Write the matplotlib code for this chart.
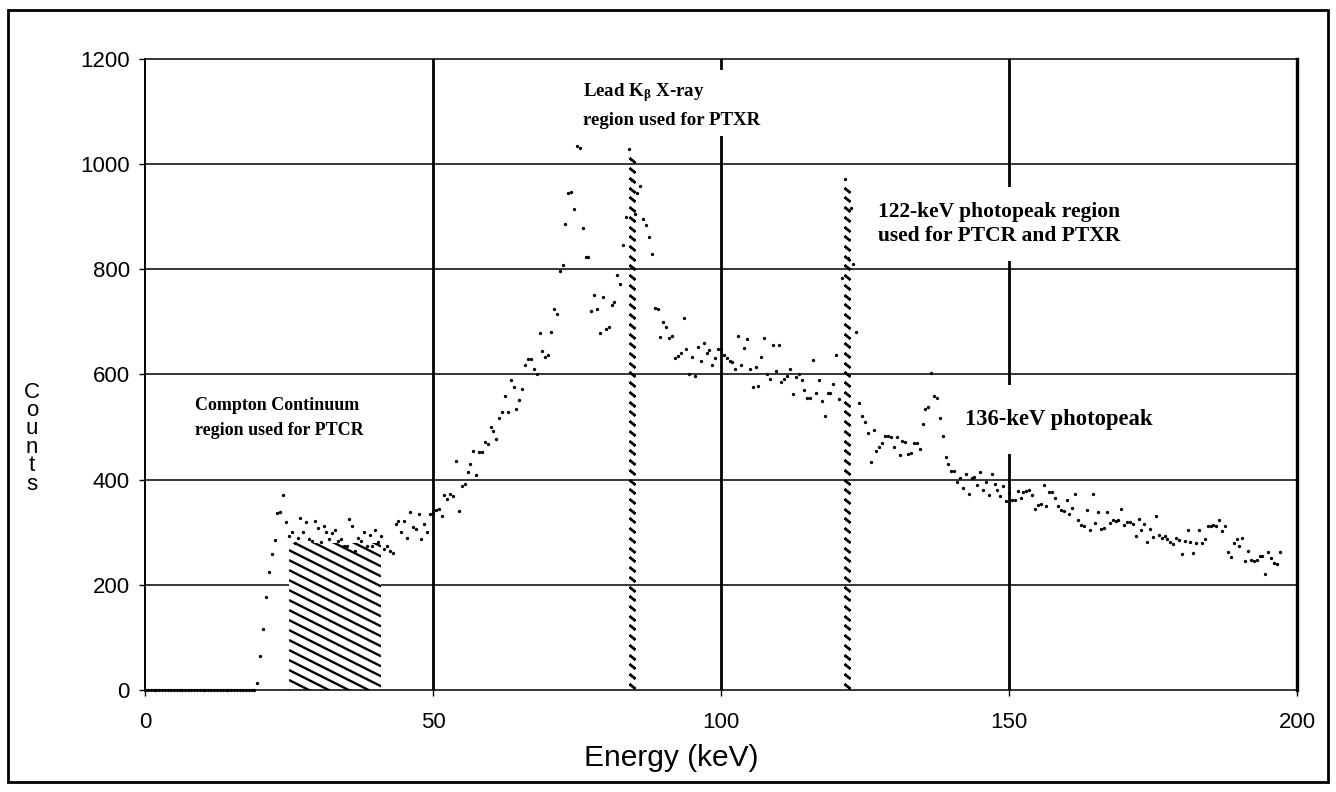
import numpy as np
import matplotlib
matplotlib.use('Agg')
import matplotlib.pyplot as plt
from matplotlib.patches import Rectangle

# spectrum counts, one value per 0.5 keV channel starting at 0 keV
counts_low = [0, 0, 0, 0, 0, 0, 0, 0, 0, 0,
              0, 0, 0, 0, 0, 0, 0, 0, 0, 0,
              0, 0, 0, 0, 0, 0, 0, 0, 0, 0,
              0, 0, 0, 0, 0, 0, 0, 0, 0, 13]
counts_compton = [65, 116, 176, 225, 258, 285, 336, 338, 371, 319,
                  293, 300, 280, 290, 328, 300, 319, 287, 284, 322,
                  309, 281, 311, 300, 287, 298, 305, 284, 287, 274,
                  274, 325, 312, 265, 290, 284, 300, 274, 295, 274,
                  305, 281, 293, 268, 274, 265, 260, 316, 322, 300]
counts_kx = [322, 290, 338, 310, 306, 334, 287, 316, 300, 334,
             336, 343, 344, 331, 371, 363, 373, 369, 435, 340,
             387, 392, 415, 430, 454, 408, 453, 453, 471, 468,
             500, 492, 478, 517, 529, 560, 528, 589, 577, 535,
             551, 572, 618, 629, 629, 610, 600, 678, 644, 634,
             638, 681, 724, 716, 797, 808, 886, 945, 948, 914,
             1035, 1030, 879, 824, 824, 720, 751, 724, 679, 748,
             687, 690, 732, 737, 789, 773, 846, 900, 1029, 970,
             905, 946, 959, 895, 884, 862, 830, 727, 725, 672]
counts_mid = [700, 691, 670, 674, 631, 635, 641, 707, 649, 601,
              634, 597, 652, 625, 660, 641, 646, 618, 632, 648,
              649, 638, 631, 625, 624, 611, 673, 618, 651, 668,
              610, 577, 615, 578, 634, 670, 600, 592, 656, 606,
              657, 585, 592, 597, 611, 563, 596, 601, 589, 570,
              556, 556, 627, 565, 589, 549, 522, 565, 565, 582,
              638, 554, 784, 971, 822, 917, 810, 681, 545, 521,
              509, 488, 434, 495, 454, 462, 469, 483, 483, 481,
              462, 481, 446, 473, 472, 448, 450, 469, 469, 458,
              505, 535, 538, 602, 559, 556, 518, 483, 443, 429]
counts_tail = [416, 416, 395, 404, 385, 410, 372, 403, 406, 390,
               414, 380, 395, 370, 411, 392, 380, 368, 387, 359,
               375, 362, 362, 378, 365, 376, 378, 381, 371, 344,
               352, 354, 389, 349, 377, 377, 365, 349, 343, 340,
               361, 335, 347, 373, 324, 314, 312, 343, 305, 373,
               318, 338, 307, 308, 338, 318, 324, 321, 323, 344,
               313, 319, 319, 316, 292, 325, 305, 316, 282, 306,
               291, 330, 294, 289, 292, 287, 281, 277, 290, 286,
               259, 284, 305, 282, 260, 279, 305, 280, 287, 311,
               311, 314, 312, 323, 302, 311, 263, 253, 279, 287,
               273, 289, 246, 265, 248, 246, 248, 255, 255, 221,
               263, 251, 241, 240, 263]

counts = counts_low + counts_compton + counts_kx + counts_mid + counts_tail
kev_per_channel = 0.5
energy = np.arange(len(counts)) * kev_per_channel

x_ticks = [0, 50, 100, 150, 200]
y_ticks = [0, 200, 400, 600, 800, 1000, 1200]

# regions marked on the spectrum
compton_lo, compton_hi, compton_level = 25, 41, 280
kx_line, kx_top = 84.5, 1020
photo_line, photo_top = 121.8, 960

plt.rcParams['font.family'] = 'Liberation Sans'
plt.rcParams['mathtext.fontset'] = 'custom'
plt.rcParams['mathtext.rm'] = 'Liberation Serif:bold'
plt.rcParams['mathtext.it'] = 'Liberation Serif:bold'
plt.rcParams['mathtext.bf'] = 'Liberation Serif:bold'

fig = plt.figure(figsize=(13.36, 7.92), dpi=100)
ax = fig.add_axes([0.1085, 0.1288, 0.8623, 0.7967])
ax.set_xlim(0, 200)
ax.set_ylim(0, 1200)
ax.set_xticks(x_ticks)
ax.set_yticks(y_ticks)

# grid: thin horizontals, heavy verticals
for y in y_ticks[1:-1]:
    ax.axhline(y, color='black', lw=1.1, zorder=1)
for x in x_ticks[1:-1]:
    ax.axvline(x, color='black', lw=2.0, zorder=1)

ax.spines['top'].set_linewidth(1.1)
ax.spines['bottom'].set_linewidth(1.1)
ax.spines['left'].set_linewidth(1.4)
ax.spines['right'].set_linewidth(2.4)

ax.tick_params(direction='out', length=4, width=1, labelsize=16, colors='black')
ax.tick_params(axis='x', pad=12)
ax.tick_params(axis='y', pad=7)

# hatched Compton continuum window
rect = Rectangle((compton_lo, 0), compton_hi - compton_lo, compton_level,
                 facecolor='white', edgecolor='none', zorder=2)
ax.add_patch(rect)
slope = 5.5
width = compton_hi - compton_lo
for c in np.arange(0, compton_level + slope * width + 19, 19):
    ln, = ax.plot([compton_lo, compton_hi], [c, c - slope * width],
                  color='black', lw=1.7, zorder=2.5, solid_capstyle='butt')
    ln.set_clip_path(rect)

# dashed window markers
for e, top in [(kx_line, kx_top), (photo_line, photo_top)]:
    ys = np.arange(8, top, 18.5)
    ax.plot(np.full(len(ys), e), ys, linestyle='none', marker=(2, 2, 50),
            markersize=5.5, mew=1.7, color='black', zorder=3)

# spectrum points
ax.plot(energy, counts, linestyle='none', marker='o', markersize=2.4,
        markeredgewidth=0, color='black', zorder=5, clip_on=False)

serif = 'Liberation Serif'
box = dict(facecolor='white', edgecolor='none')
ax.text(8.7, 517, 'Compton Continuum\nregion used for PTCR', family=serif,
        fontweight='bold', fontsize=13, ha='left', va='center', linespacing=1.65,
        bbox=dict(box, boxstyle='square,pad=0.3'), zorder=4)
ax.text(76.0, 1113, 'Lead K$_{\\beta}$ X-ray\nregion used for PTXR', family=serif,
        fontweight='bold', fontsize=13.6, ha='left', va='center', linespacing=1.6,
        bbox=dict(box, boxstyle='square,pad=0.4'), zorder=4)
ax.text(127.3, 886, '122-keV photopeak region\nused for PTCR and PTXR', family=serif,
        fontweight='bold', fontsize=15.5, ha='left', va='center', linespacing=1.3,
        bbox=dict(box, boxstyle='square,pad=0.7'), zorder=4)
ax.text(142.4, 514, '136-keV photopeak', family=serif,
        fontweight='bold', fontsize=16.3, ha='left', va='center',
        bbox=dict(box, boxstyle='square,pad=1.05'), zorder=4)

fig.text(0.5026, 0.043, 'Energy (keV)', fontsize=21.5, ha='center', va='center')
for i, ch in enumerate('Counts'):
    fig.text(0.024, 1 - (392 + i * 18.5) / 792, ch, fontsize=16,
             ha='center', va='center')

fig.add_artist(Rectangle((0.006, 0.0126), 0.988, 0.975, transform=fig.transFigure,
                         fill=False, lw=2, edgecolor='black'))

fig.savefig('out.png', dpi=100)
